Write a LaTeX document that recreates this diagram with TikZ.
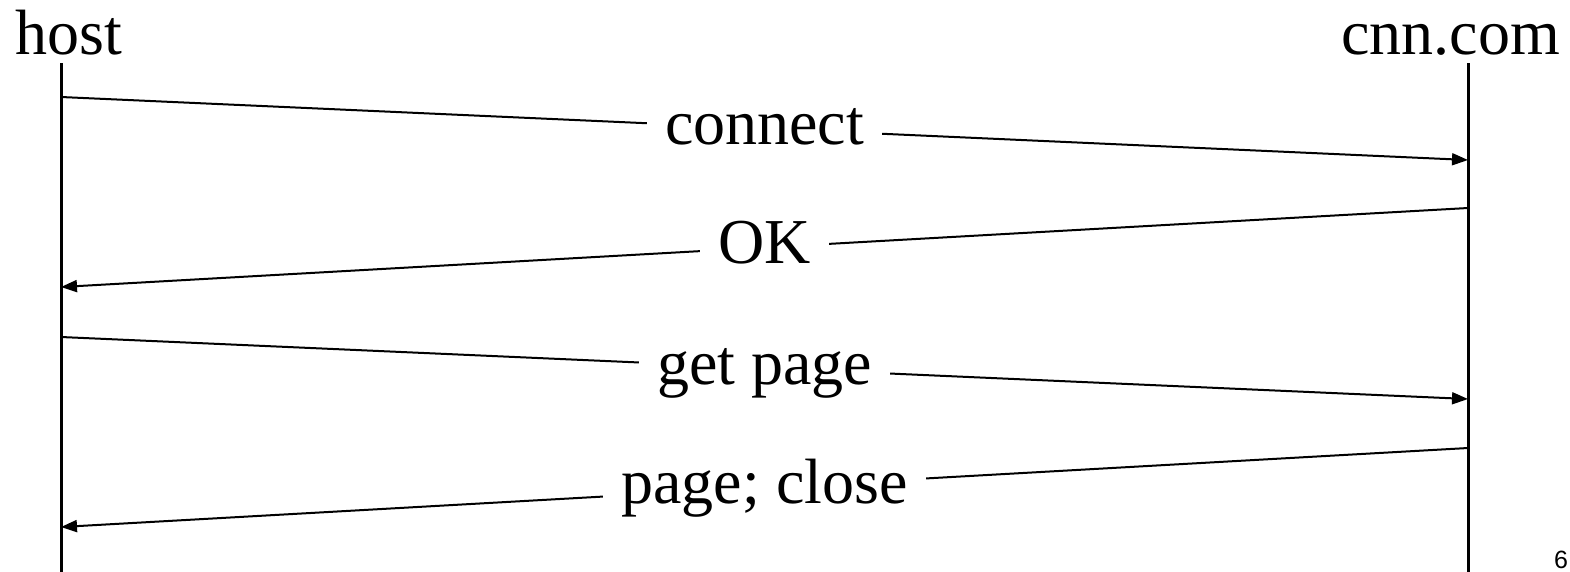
\documentclass[tikz,border=0pt]{standalone}
\usepackage{fontspec}
\setmainfont{Liberation Serif}
\newfontfamily\numfont{Liberation Sans}
\usetikzlibrary{arrows.meta}
\begin{document}
\begin{tikzpicture}[x=1pt,y=-1pt,
  lifeline/.style={line width=3pt},
  msg/.style={line width=2pt,-{Triangle[length=16pt,width=12pt]}},
  lbl/.style={midway,anchor=base,yshift=-16pt,fill=white,inner xsep=18pt,inner ysep=2pt,font=\fontsize{64}{70}\selectfont},
  title/.style={inner sep=0pt,font=\fontsize{64}{70}\selectfont}]
\useasboundingbox (0,0) rectangle (1570,571);
\node[title,anchor=base west] (host) at (15,54) {host};
\node[title,anchor=base east] (cnn) at (1560,54) {cnn.com};
\coordinate (h0) at (61,63);
\coordinate (h1) at (61,575);
\coordinate (c0) at (1468,63);
\coordinate (c1) at (1468,575);
\draw[lifeline] (h0) -- (h1);
\draw[lifeline] (c0) -- (c1);
\coordinate (m1s) at (61,97);
\coordinate (m1e) at (1468,160);
\coordinate (m2s) at (1468,208);
\coordinate (m2e) at (61,287);
\coordinate (m3s) at (61,337);
\coordinate (m3e) at (1468,399);
\coordinate (m4s) at (1468,448);
\coordinate (m4e) at (61,527);
\draw[msg] (m1s) -- node[lbl] {connect} (m1e);
\draw[msg] (m2s) -- node[lbl] {OK} (m2e);
\draw[msg] (m3s) -- node[lbl] {get page} (m3e);
\draw[msg] (m4s) -- node[lbl] {page; close} (m4e);
\node[anchor=north west,inner sep=0pt,font=\numfont\fontsize{25}{30}\selectfont] (pnum) at (1554,551) {6};
\end{tikzpicture}
\end{document}
